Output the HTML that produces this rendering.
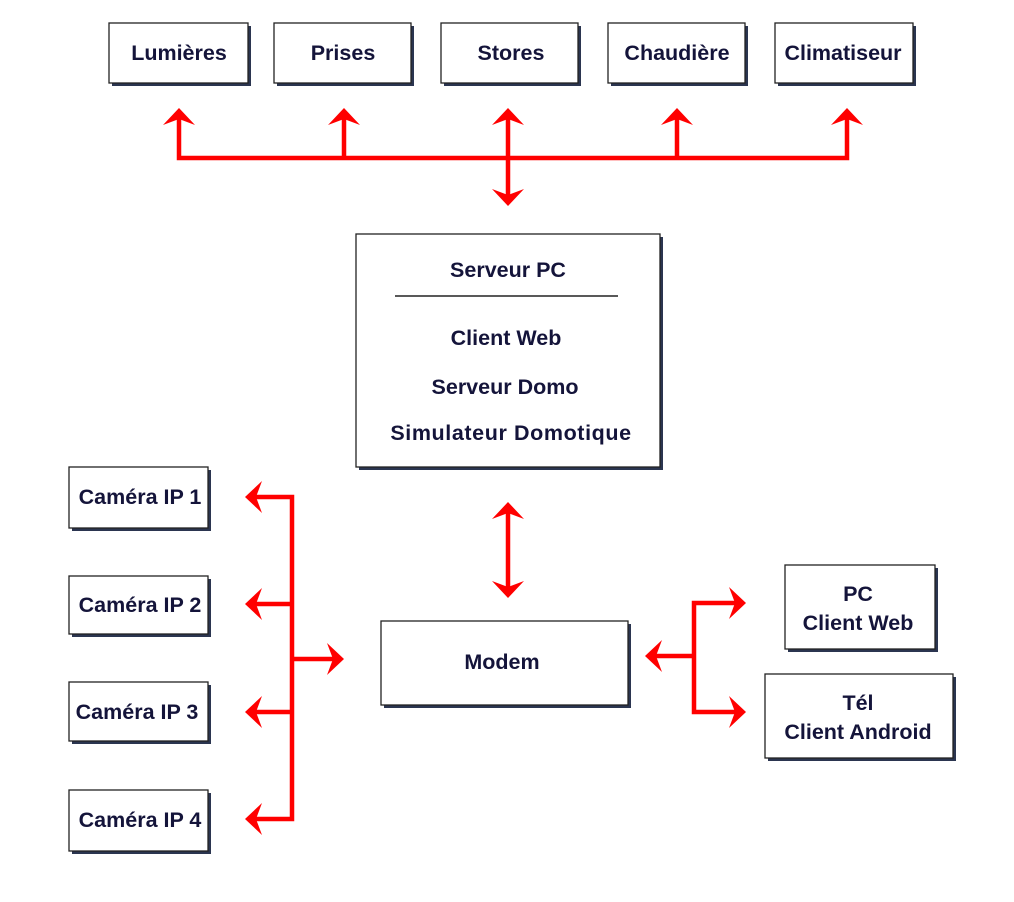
<!DOCTYPE html>
<html><head><meta charset="utf-8"><style>
body{margin:0;background:#fff;}
svg{display:block}
text{font-family:"Liberation Sans",sans-serif;font-weight:bold;font-size:21.5px;fill:#14143a;text-anchor:middle}
.b{fill:#fff;stroke:#222;stroke-width:1.3}
.s{fill:#2b3550}
.l{stroke:#f00;stroke-width:4.5;fill:none}
.a{fill:#f00}
</style></head><body>
<svg width="1014" height="902" viewBox="0 0 1014 902">
<defs>
<path id="up" d="M0,0 L16,17 L0,11 L-16,17 Z"/>
</defs>
<g>
<rect class="s" x="112" y="26" width="139" height="60"/><rect class="b" x="109" y="23" width="139" height="60"/>
<rect class="s" x="277" y="26" width="137" height="60"/><rect class="b" x="274" y="23" width="137" height="60"/>
<rect class="s" x="444" y="26" width="137" height="60"/><rect class="b" x="441" y="23" width="137" height="60"/>
<rect class="s" x="611" y="26" width="137" height="60"/><rect class="b" x="608" y="23" width="137" height="60"/>
<rect class="s" x="778" y="26" width="138" height="60"/><rect class="b" x="775" y="23" width="138" height="60"/>
<text x="179" y="60">Lumières</text>
<text x="343" y="60">Prises</text>
<text x="511" y="60">Stores</text>
<text x="677" y="60">Chaudière</text>
<text x="843" y="60">Climatiseur</text>
</g>
<path class="l" d="M179,116 V158 H847 V116 M344,116 V158 M508,116 V197 M677,116 V158"/>
<use href="#up" class="a" transform="translate(179,108)"/>
<use href="#up" class="a" transform="translate(344,108)"/>
<use href="#up" class="a" transform="translate(508,108)"/>
<use href="#up" class="a" transform="translate(677,108)"/>
<use href="#up" class="a" transform="translate(847,108)"/>
<use href="#up" class="a" transform="translate(508,206) rotate(180)"/>
<rect class="s" x="359" y="237" width="304" height="233"/><rect class="b" x="356" y="234" width="304" height="233"/>
<line x1="395" y1="296" x2="618" y2="296" stroke="#222" stroke-width="1.5"/>
<text x="508" y="277">Serveur PC</text>
<text x="506" y="345">Client Web</text>
<text x="505" y="394">Serveur Domo</text>
<text x="511" y="440" style="letter-spacing:0.6px">Simulateur  Domotique</text>
<path class="l" d="M508,510 V590"/>
<use href="#up" class="a" transform="translate(508,502)"/>
<use href="#up" class="a" transform="translate(508,598) rotate(180)"/>
<rect class="s" x="384" y="624" width="247" height="84"/><rect class="b" x="381" y="621" width="247" height="84"/>
<text x="502" y="669">Modem</text>
<rect class="s" x="72" y="470" width="139" height="61"/><rect class="b" x="69" y="467" width="139" height="61"/>
<rect class="s" x="72" y="579" width="139" height="58"/><rect class="b" x="69" y="576" width="139" height="58"/>
<rect class="s" x="72" y="685" width="139" height="59"/><rect class="b" x="69" y="682" width="139" height="59"/>
<rect class="s" x="72" y="793" width="139" height="61"/><rect class="b" x="69" y="790" width="139" height="61"/>
<text x="140" y="504">Caméra IP 1</text>
<text x="140" y="612">Caméra IP 2</text>
<text x="137" y="719">Caméra IP 3</text>
<text x="140" y="827">Caméra IP 4</text>
<path class="l" d="M253,497 H292 V819 H253 M253,604 H292 M253,712 H292 M292,659 H335"/>
<use href="#up" class="a" transform="translate(245,497) rotate(-90)"/>
<use href="#up" class="a" transform="translate(245,604) rotate(-90)"/>
<use href="#up" class="a" transform="translate(245,712) rotate(-90)"/>
<use href="#up" class="a" transform="translate(245,819) rotate(-90)"/>
<use href="#up" class="a" transform="translate(344,659) rotate(90)"/>
<path class="l" d="M653,656 H694 M737,603 H694 V712 H737"/>
<use href="#up" class="a" transform="translate(645,656) rotate(-90)"/>
<use href="#up" class="a" transform="translate(746,603) rotate(90)"/>
<use href="#up" class="a" transform="translate(746,712) rotate(90)"/>
<rect class="s" x="788" y="568" width="150" height="84"/><rect class="b" x="785" y="565" width="150" height="84"/>
<rect class="s" x="768" y="677" width="188" height="84"/><rect class="b" x="765" y="674" width="188" height="84"/>
<text x="858" y="601">PC</text>
<text x="858" y="630">Client Web</text>
<text x="858" y="710">Tél</text>
<text x="858" y="739">Client Android</text>
</svg>
</body></html>
